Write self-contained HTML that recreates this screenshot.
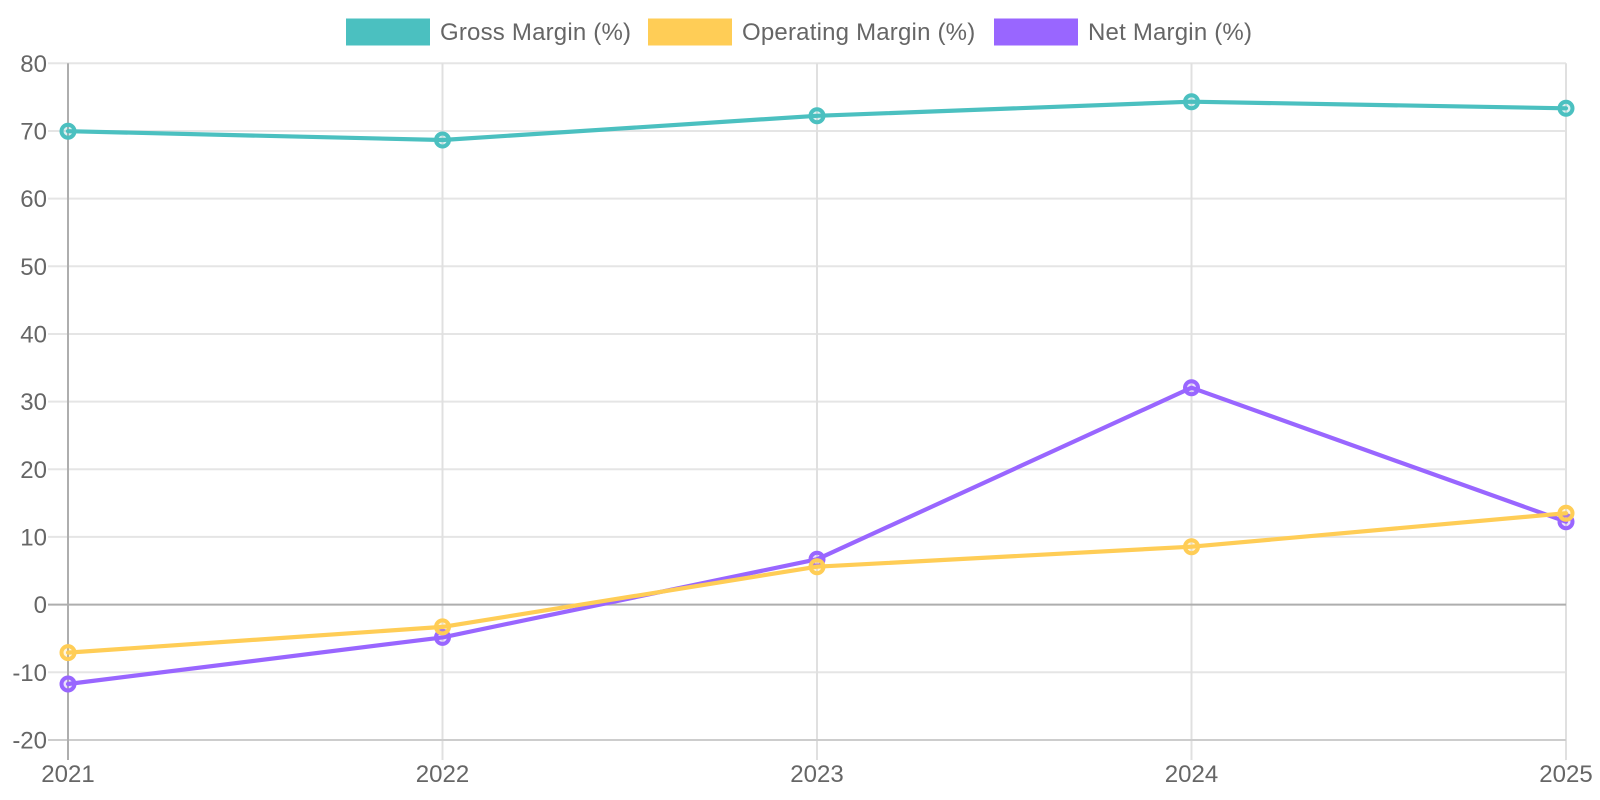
<!DOCTYPE html>
<html>
<head>
<meta charset="utf-8">
<style>
  html, body { margin: 0; padding: 0; background: #ffffff; }
  body { width: 1600px; height: 800px; overflow: hidden; }
  svg { display: block; }
  text { font-family: "Liberation Sans", Arial, sans-serif; font-size: 24px; fill: #666666; }
  .leg { letter-spacing: 0.2px; }
</style>
</head>
<body>
<svg width="1600" height="800" viewBox="0 0 1600 800" xmlns="http://www.w3.org/2000/svg">
  <rect x="0" y="0" width="1600" height="800" fill="#ffffff"/>

  <!-- Legend -->
  <rect x="346" y="18.5" width="84" height="27" fill="#4BC0C0"/>
  <text class="leg" x="440" y="40">Gross Margin (%)</text>
  <rect x="648" y="18.5" width="84" height="27" fill="#FFCD56"/>
  <text class="leg" x="742" y="40">Operating Margin (%)</text>
  <rect x="994" y="18.5" width="84" height="27" fill="#9966FF"/>
  <text class="leg" x="1088" y="40">Net Margin (%)</text>

  <!-- Horizontal gridlines -->
  <g stroke="#e5e5e5" stroke-width="2">
    <line x1="48" y1="63.3" x2="1566" y2="63.3"/>
    <line x1="48" y1="131.0" x2="1566" y2="131.0"/>
    <line x1="48" y1="198.6" x2="1566" y2="198.6"/>
    <line x1="48" y1="266.3" x2="1566" y2="266.3"/>
    <line x1="48" y1="334.0" x2="1566" y2="334.0"/>
    <line x1="48" y1="401.6" x2="1566" y2="401.6"/>
    <line x1="48" y1="469.3" x2="1566" y2="469.3"/>
    <line x1="48" y1="536.9" x2="1566" y2="536.9"/>
    <line x1="48" y1="672.3" x2="1566" y2="672.3"/>
  </g>
  <!-- Vertical gridlines -->
  <g stroke="#e0e0e0" stroke-width="2">
    <line x1="442.5" y1="63.3" x2="442.5" y2="760"/>
    <line x1="817" y1="63.3" x2="817" y2="760"/>
    <line x1="1191.5" y1="63.3" x2="1191.5" y2="760"/>
    <line x1="1566" y1="63.3" x2="1566" y2="760"/>
  </g>
  <!-- bottom axis border -->
  <line x1="48" y1="740" x2="1566" y2="740" stroke="#cdcdcd" stroke-width="2"/>
  <!-- zero line -->
  <line x1="48" y1="604.6" x2="1566" y2="604.6" stroke="#aeaeae" stroke-width="2"/>
  <!-- left axis -->
  <line x1="68" y1="63.3" x2="68" y2="760" stroke="#aeaeae" stroke-width="2"/>

  <!-- Y tick labels -->
  <g text-anchor="end">
    <text x="47" y="72">80</text>
    <text x="47" y="139.6">70</text>
    <text x="47" y="207.2">60</text>
    <text x="47" y="274.9">50</text>
    <text x="47" y="342.6">40</text>
    <text x="47" y="410.2">30</text>
    <text x="47" y="477.9">20</text>
    <text x="47" y="545.5">10</text>
    <text x="47" y="613.2">0</text>
    <text x="47" y="680.9">-10</text>
    <text x="47" y="748.6">-20</text>
  </g>
  <!-- X tick labels -->
  <g text-anchor="middle">
    <text x="68" y="782">2021</text>
    <text x="442.5" y="782">2022</text>
    <text x="817" y="782">2023</text>
    <text x="1191.5" y="782">2024</text>
    <text x="1566" y="782">2025</text>
  </g>

  <!-- Net Margin (drawn first) -->
  <polyline fill="none" stroke="#9966FF" stroke-width="4.2" stroke-linejoin="round" stroke-linecap="round"
    points="68,684 442.5,637.4 817,559.3 1191.5,387.7 1566,521.7"/>
  <g fill="rgba(153,102,255,0.2)" stroke="#9966FF" stroke-width="4">
    <circle cx="68" cy="684" r="6.5"/>
    <circle cx="442.5" cy="637.4" r="6.5"/>
    <circle cx="817" cy="559.3" r="6.5"/>
    <circle cx="1191.5" cy="387.7" r="6.5"/>
    <circle cx="1566" cy="521.7" r="6.5"/>
  </g>

  <!-- Operating Margin -->
  <polyline fill="none" stroke="#FFCD56" stroke-width="4.2" stroke-linejoin="round" stroke-linecap="round"
    points="68,652.6 442.5,626.9 817,566.7 1191.5,546.7 1566,513.2"/>
  <g fill="rgba(255,205,86,0.2)" stroke="#FFCD56" stroke-width="4">
    <circle cx="68" cy="652.6" r="6.5"/>
    <circle cx="442.5" cy="626.9" r="6.5"/>
    <circle cx="817" cy="566.7" r="6.5"/>
    <circle cx="1191.5" cy="546.7" r="6.5"/>
    <circle cx="1566" cy="513.2" r="6.5"/>
  </g>

  <!-- Gross Margin (drawn last, on top) -->
  <polyline fill="none" stroke="#4BC0C0" stroke-width="4.2" stroke-linejoin="round" stroke-linecap="round"
    points="68,131.2 442.5,140 817,115.8 1191.5,101.7 1566,108.3"/>
  <g fill="rgba(75,192,192,0.2)" stroke="#4BC0C0" stroke-width="4">
    <circle cx="68" cy="131.2" r="6.5"/>
    <circle cx="442.5" cy="140" r="6.5"/>
    <circle cx="817" cy="115.8" r="6.5"/>
    <circle cx="1191.5" cy="101.7" r="6.5"/>
    <circle cx="1566" cy="108.3" r="6.5"/>
  </g>
</svg>
</body>
</html>
